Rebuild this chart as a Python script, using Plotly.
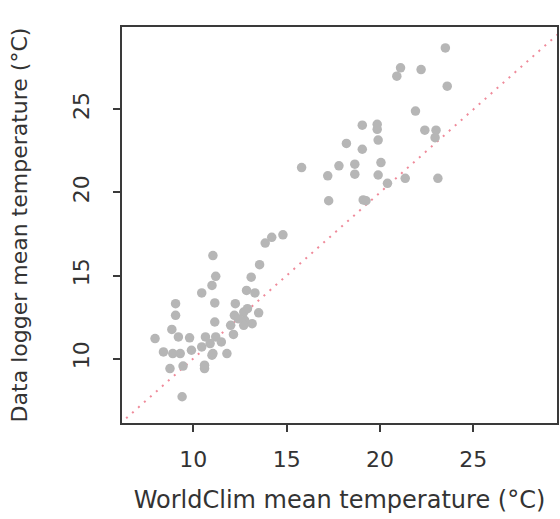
import plotly.graph_objects as go

# WorldClim mean temperature (x) vs data logger mean temperature (y), °C
worldclim = [
    23.5, 21.1, 20.9, 22.2, 23.6, 21.9, 19.05, 19.85, 19.85, 22.4, 23.0, 22.95,
    19.9, 18.2, 19.05, 15.8, 17.8, 18.65, 18.65, 17.2, 20.05, 19.9, 20.4, 21.35,
    23.1, 17.25, 19.1, 19.25,
    14.8, 14.2, 13.85, 13.55, 13.1, 12.85, 13.3, 13.5, 13.15, 12.75, 12.7, 12.25,
    12.2, 12.7, 12.15, 11.8, 12.4, 12.9,
    11.05, 11.2, 11.0, 10.45, 11.15, 11.15, 9.05, 9.05, 8.85, 9.2, 7.95, 9.8,
    10.65, 11.2, 8.4, 8.9, 9.3, 9.9, 10.45, 11.0, 11.05, 8.75, 9.45, 10.6, 10.6,
    9.4, 11.5, 10.9, 12.0,
]
logger = [
    28.7, 27.5, 27.0, 27.4, 26.4, 24.9, 24.05, 24.1, 23.8, 23.75, 23.75, 23.3,
    23.15, 22.95, 22.6, 21.5, 21.6, 21.7, 21.1, 21.0, 21.8, 21.05, 20.55, 20.85,
    20.85, 19.5, 19.55, 19.5,
    17.45, 17.3, 16.95, 15.65, 14.9, 14.1, 13.95, 12.75, 12.1, 12.3, 12.0, 13.3,
    12.6, 12.8, 11.45, 10.3, 12.4, 13.0,
    16.2, 14.95, 14.4, 13.95, 13.35, 12.2, 13.3, 12.6, 11.75, 11.3, 11.2, 11.25,
    11.3, 11.3, 10.4, 10.3, 10.3, 10.5, 10.7, 10.2, 10.3, 9.4, 9.55, 9.4, 9.6,
    7.7, 11.0, 10.9, 12.0,
]
one_to_one = [0, 40]
x_ticks = [10, 15, 20, 25]
y_ticks = [10, 15, 20, 25]

font = dict(family="DejaVu Sans, sans-serif", size=22, color="#333333")
xtitle_font = dict(family="DejaVu Sans, sans-serif", size=24, color="#333333")

fig = go.Figure()
fig.add_trace(go.Scatter(
    x=one_to_one, y=one_to_one, mode="lines",
    line=dict(color="#ef8a9a", width=2, dash="2px,6px"),
    hoverinfo="skip", showlegend=False,
))
fig.add_trace(go.Scatter(
    x=worldclim, y=logger, mode="markers",
    marker=dict(size=9.5, color="#b6b6b6", line=dict(width=0)),
    showlegend=False,
))

axis_common = dict(
    showgrid=False, zeroline=False, showline=True, mirror=True,
    linecolor="#3a3a3a", linewidth=2, ticks="outside", ticklen=7,
    tickwidth=1.5, tickcolor="#3a3a3a", tickfont=font, automargin=False,
)
fig.update_layout(
    width=560, height=519, autosize=False,
    margin=dict(l=122, r=3, t=27, b=96),
    paper_bgcolor="white", plot_bgcolor="white",
    font=font,
    xaxis=dict(range=[6.18, 29.48], tickvals=x_ticks, ticklabelstandoff=9,
               title=dict(text="WorldClim mean temperature (°C)", font=xtitle_font, standoff=20),
               **axis_common),
    yaxis=dict(range=[6.12, 29.96], tickvals=y_ticks, tickangle=-90, ticklabelstandoff=15,
               title=dict(text="Data logger mean temperature (°C)", font=font, standoff=36),
               **axis_common),
)
fig.write_html(
    "out.html",
    config={"responsive": False, "displayModeBar": False},
    post_script=(
        "document.body.style.margin='0';"
        "var gd=document.getElementById('{plot_id}');"
        "Plotly.relayout(gd,{width:560,height:519});"
    ),
)
